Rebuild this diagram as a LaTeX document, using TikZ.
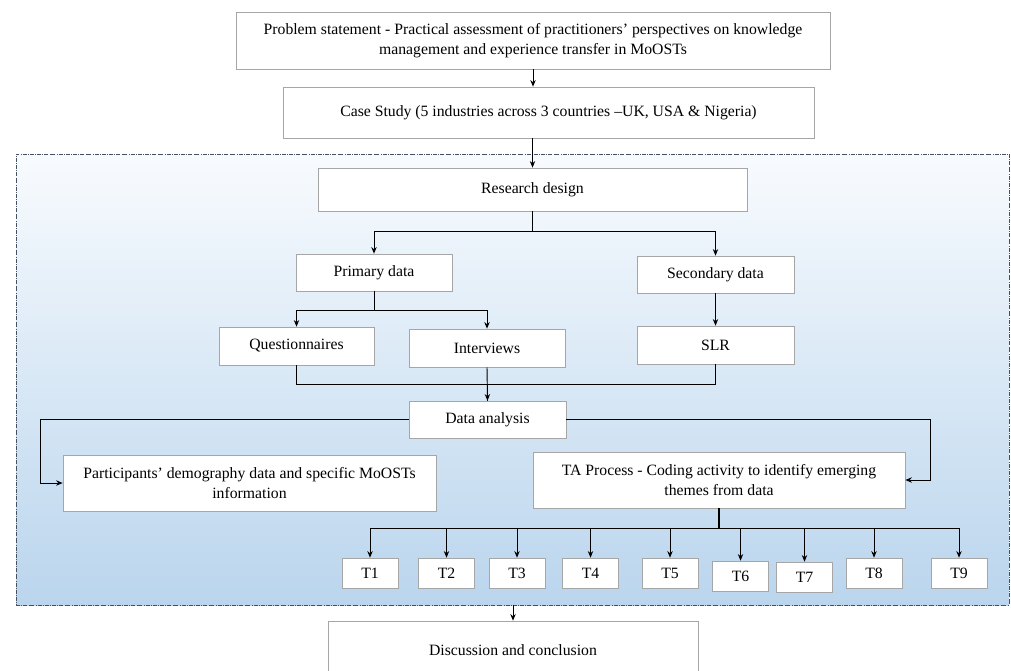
\documentclass[tikz,border=0pt]{standalone}
\usepackage{fontspec}
\setmainfont{Liberation Serif}
\usepackage{tikz}
\usetikzlibrary{arrows.meta,positioning}
\definecolor{boxgray}{RGB}{166,166,166}
\definecolor{regtop}{RGB}{248,251,254}
\definecolor{regbot}{RGB}{186,213,237}
\definecolor{regline}{RGB}{70,80,95}
\tikzstyle{fbox}=[rectangle,draw=boxgray,fill=white,align=center,inner sep=2pt,
                  font=\fontsize{11.8}{15.3}\selectfont]
\tikzstyle{tbox}=[fbox,minimum width=42pt,minimum height=22.5pt]
\tikzstyle{region}=[rectangle,draw=regline,densely dash dot,top color=regtop,bottom color=regbot]
\tikzstyle{arr}=[-{Stealth[length=5pt,width=4pt]},draw=black,line width=0.7pt]
\tikzstyle{link}=[draw=black,line width=0.7pt]

\begin{document}
\begin{tikzpicture}[x=0.75pt,y=-0.75pt]
      \useasboundingbox (0,0) rectangle (1011,671);
      \node[region,minimum width=744.75pt,minimum height=338.25pt] (reg) at (512.5,379.5) {};

      \node[fbox,minimum width=445.5pt,minimum height=42.75pt] (prob) at (533,40.5)
        {Problem statement - Practical assessment of practitioners’ perspectives on knowledge\\
         management and experience transfer in MoOSTs};
      \node[fbox,minimum width=398.25pt,minimum height=38.25pt] (case) at (548.5,112.5)
        {Case Study (5 industries across 3 countries --UK, USA \& Nigeria)};
      \node[fbox,minimum width=321.75pt,minimum height=32.25pt] (rd) at (532.5,189.5) {Research design};
      \node[fbox,minimum width=117pt,minimum height=27.75pt] (prim) at (374,272.5) {Primary data};
      \node[fbox,minimum width=117.75pt,minimum height=27.75pt] (sec) at (715.5,274.5) {Secondary data};
      \node[fbox,minimum width=116.25pt,minimum height=28.5pt] (quest) at (296.5,346) {Questionnaires};
      \node[fbox,minimum width=117pt,minimum height=28.5pt] (interv) at (487,348) {Interviews};
      \node[fbox,minimum width=117.75pt,minimum height=28.5pt] (slr) at (715.5,345) {SLR};
      \node[fbox,minimum width=117.75pt,minimum height=27.75pt] (da) at (487.5,419.5) {Data analysis};
      \node[fbox,minimum width=279.75pt,minimum height=42pt] (part) at (249.5,483)
        {Participants’ demography data and specific MoOSTs\\information};
      \node[fbox,minimum width=279pt,minimum height=42pt] (ta) at (719,480)
        {TA Process - Coding activity to identify emerging\\themes from data};
      \node[tbox] (t1) at (370,573) {T1};
      \node[tbox] (t2) at (446.5,573) {T2};
      \node[tbox] (t3) at (517,573) {T3};
      \node[tbox] (t4) at (590.5,573) {T4};
      \node[tbox] (t5) at (670,573) {T5};
      \node[tbox] (t6) at (740.5,576) {T6};
      \node[tbox] (t7) at (804.5,577) {T7};
      \node[tbox] (t8) at (874,573) {T8};
      \node[tbox] (t9) at (959,573) {T9};
      \node[fbox,minimum width=277.5pt,minimum height=43.5pt] (disc) at (513,650) {Discussion and conclusion};

      \coordinate (lft) at (40,0);
      \coordinate (rgt) at (930,0);

      \draw[arr] (prob.south) -- (prob.south |- case.north);
      \draw[arr] (rd.north |- case.south) -- (rd.north);
      \draw[arr] (rd.south) -- ++(0,20) -| (prim.north);
      \draw[arr] (rd.south) -- ++(0,20) -| (sec.north);
      \draw[arr] (prim.south) -- ++(0,19) -| (quest.north);
      \draw[arr] (prim.south) -- ++(0,19) -| (interv.north);
      \draw[arr] (sec) -- (slr);
      \draw[link] (quest.south) -- ++(0,19) -| (da.north);
      \draw[link] (slr.south) -- ++(0,20) -| (da.north);
      \draw[arr] (interv.south) -- (da.north);
      \draw[arr] (da.west) -| (lft |- part.west) -- (part.west);
      \draw[arr] (da.east) -| (rgt |- ta.east) -- (ta.east);
      \draw[link,line width=1.2pt] (ta.south) -- ++(0,20) coordinate (bus);
      \draw[link] (bus -| t1.north) -- (bus -| t9.north);
      \foreach \i in {1,...,9}
        \draw[arr] (bus -| t\i.north) -- (t\i.north);
      \draw[arr] (disc.north |- reg.south) -- (disc.north);
    \end{tikzpicture}
\end{document}
